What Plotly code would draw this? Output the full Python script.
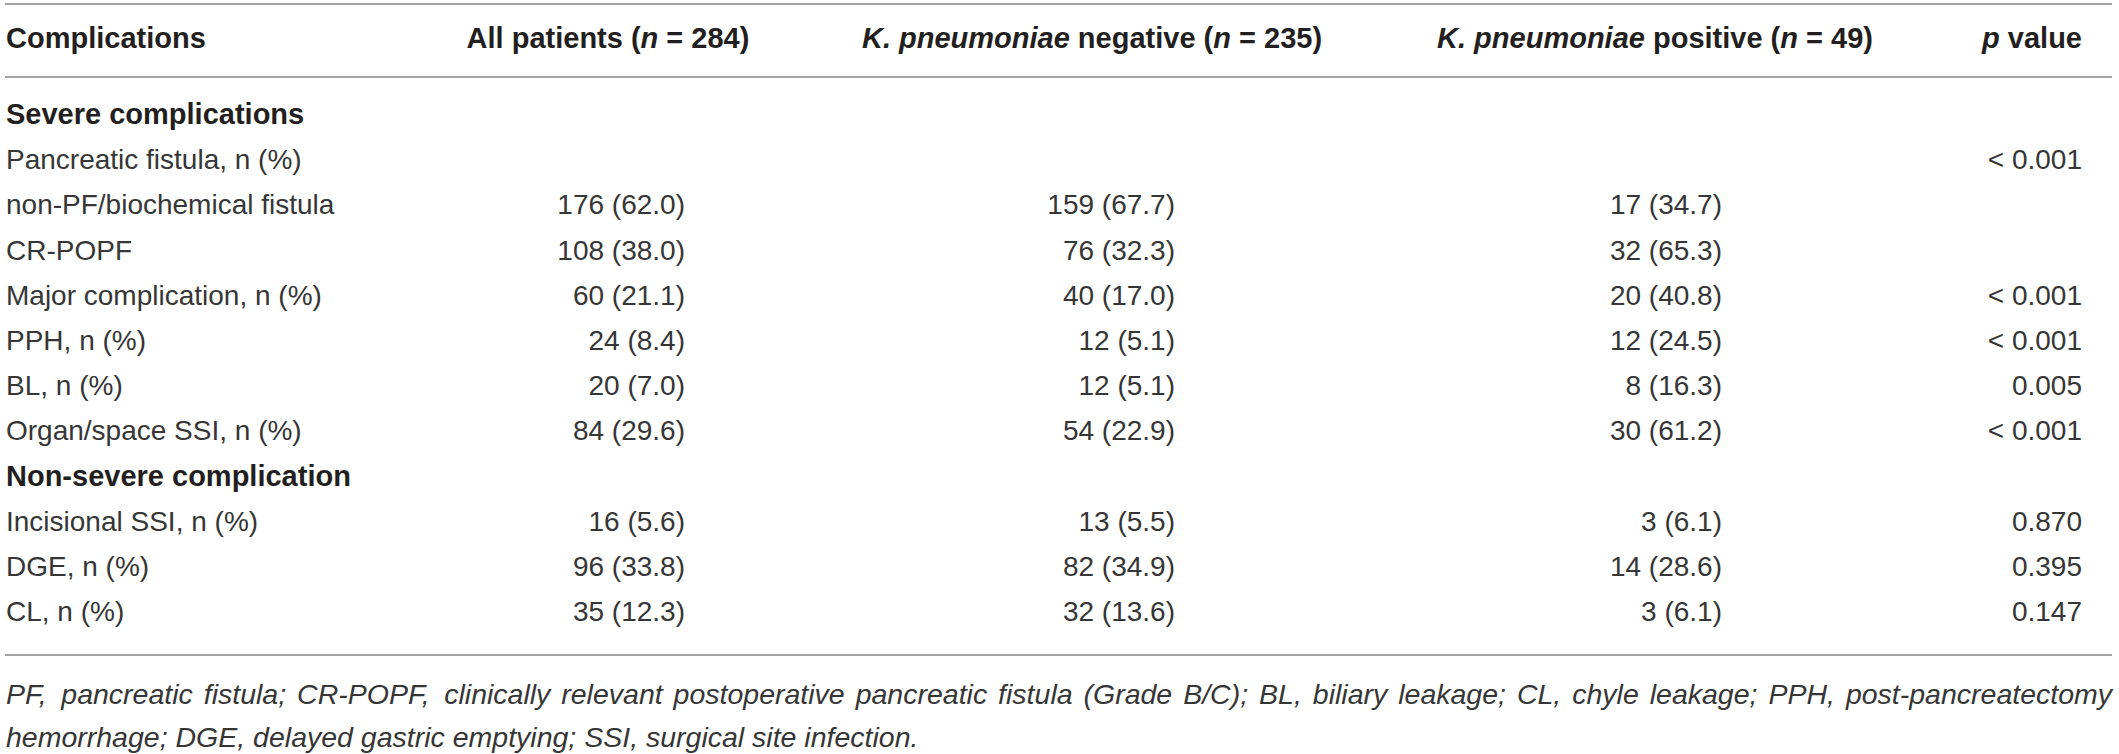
import plotly.graph_objects as go

# ---------------- data ----------------
headers = [
    "Complications",
    "All patients (<i>n</i> = 284)",
    "<i>K. pneumoniae</i> negative (<i>n</i> = 235)",
    "<i>K. pneumoniae</i> positive (<i>n</i> = 49)",
    "<i>p</i> value",
]
row_labels = [
    "Severe complications",
    "Pancreatic fistula, n (%)",
    "non-PF/biochemical fistula",
    "CR-POPF",
    "Major complication, n (%)",
    "PPH, n (%)",
    "BL, n (%)",
    "Organ/space SSI, n (%)",
    "Non-severe complication",
    "Incisional SSI, n (%)",
    "DGE, n (%)",
    "CL, n (%)",
]
section_rows = [0, 8]
all_patients = ["", "", "176 (62.0)", "108 (38.0)", "60 (21.1)", "24 (8.4)", "20 (7.0)",
                "84 (29.6)", "", "16 (5.6)", "96 (33.8)", "35 (12.3)"]
kp_negative = ["", "", "159 (67.7)", "76 (32.3)", "40 (17.0)", "12 (5.1)", "12 (5.1)",
               "54 (22.9)", "", "13 (5.5)", "82 (34.9)", "32 (13.6)"]
kp_positive = ["", "", "17 (34.7)", "32 (65.3)", "20 (40.8)", "12 (24.5)", "8 (16.3)",
               "30 (61.2)", "", "3 (6.1)", "14 (28.6)", "3 (6.1)"]
p_values = ["", "< 0.001", "", "", "< 0.001", "< 0.001", "0.005", "< 0.001", "",
            "0.870", "0.395", "0.147"]
footnote_lines = [
    "PF, pancreatic fistula; CR-POPF, clinically relevant postoperative pancreatic fistula "
    "(Grade B/C); BL, biliary leakage; CL, chyle leakage; PPH, post-pancreatectomy",
    "hemorrhage; DGE, delayed gastric emptying; SSI, surgical site infection.",
]

# ---------------- layout constants ----------------
W, H = 2119, 754
FONT = "Liberation Sans, Arial, Helvetica, sans-serif"
INK = "#231f20"
BODY_INK = "#363636"
RULE = "#a3a3a3"
HEADER_Y = 41
RULES_Y = [4, 77, 655]
ROW_Y0, ROW_STEP = 117, 45.2
FOOT_Y = [697, 740]
LEFT, RIGHT = 6, 2112
VALUE_RIGHT = [685, 1175, 1722, 2082]
HEADER_CENTER = [608, 1092, 1655]
BODY_SIZE = 28
HEAD_SIZE = 29
FOOT_SIZE = 28.5

row_y = [ROW_Y0 + i * ROW_STEP for i in range(len(row_labels))]

fig = go.Figure()


def text_trace(xs, ys, texts, pos, size, weight="normal", style="normal", color=INK):
    fig.add_trace(go.Scatter(
        x=xs, y=ys, text=texts, mode="text", textposition=pos,
        textfont=dict(family=FONT, size=size, color=color, weight=weight, style=style),
        hoverinfo="skip", showlegend=False, cliponaxis=False,
    ))


# header
text_trace([LEFT], [HEADER_Y], [headers[0]], "middle right", HEAD_SIZE, "bold")
text_trace(HEADER_CENTER, [HEADER_Y] * 3, headers[1:4], "middle center", HEAD_SIZE, "bold")
text_trace([VALUE_RIGHT[3]], [HEADER_Y], [headers[4]], "middle left", HEAD_SIZE, "bold")

# row labels
plain_idx = [i for i in range(len(row_labels)) if i not in section_rows]
text_trace([LEFT] * len(plain_idx), [row_y[i] for i in plain_idx],
           [row_labels[i] for i in plain_idx], "middle right", BODY_SIZE, color=BODY_INK)
text_trace([LEFT] * len(section_rows), [row_y[i] for i in section_rows],
           [row_labels[i] for i in section_rows], "middle right", HEAD_SIZE, "bold")

# value columns (right aligned)
for col, xr in zip([all_patients, kp_negative, kp_positive, p_values], VALUE_RIGHT):
    idx = [i for i, v in enumerate(col) if v]
    text_trace([xr] * len(idx), [row_y[i] for i in idx], [col[i] for i in idx],
               "middle left", BODY_SIZE, color=BODY_INK)

# footnote: first line justified using Arial/Liberation Sans advance widths
ADV = {' ': 278, '(': 333, ')': 333, ',': 278, '-': 333, '.': 278, '/': 278, ';': 278,
       '%': 889}
for ch in '0123456789':
    ADV[ch] = 556
ADV.update({'A': 667, 'B': 667, 'C': 722, 'D': 722, 'E': 667, 'F': 611, 'G': 778, 'H': 722,
            'I': 278, 'J': 500, 'K': 667, 'L': 556, 'M': 833, 'N': 722, 'O': 778, 'P': 667,
            'Q': 778, 'R': 722, 'S': 667, 'T': 611, 'U': 722, 'V': 667, 'W': 944, 'X': 667,
            'Y': 667, 'Z': 611, 'a': 556, 'b': 556, 'c': 500, 'd': 556, 'e': 556, 'f': 278,
            'g': 556, 'h': 556, 'i': 222, 'j': 222, 'k': 500, 'l': 222, 'm': 833, 'n': 556,
            'o': 556, 'p': 556, 'q': 556, 'r': 333, 's': 500, 't': 278, 'u': 556, 'v': 500,
            'w': 722, 'x': 500, 'y': 500, 'z': 500})


def width(s):
    return sum(ADV.get(c, 556) for c in s) * FOOT_SIZE / 1000.0


words = footnote_lines[0].split(" ")
wsum = sum(width(w) for w in words)
gap = (RIGHT - LEFT - wsum) / (len(words) - 1)
xs, x = [], LEFT
for w in words:
    xs.append(x)
    x += width(w) + gap
text_trace(xs, [FOOT_Y[0]] * len(words), words, "middle right", FOOT_SIZE,
           style="italic", color=BODY_INK)
text_trace([LEFT], [FOOT_Y[1]], [footnote_lines[1]], "middle right", FOOT_SIZE,
           style="italic", color=BODY_INK)

# horizontal rules
for y in RULES_Y:
    fig.add_shape(type="line", xref="x", yref="y", x0=LEFT - 1, x1=RIGHT, y0=y, y1=y,
                  line=dict(color=RULE, width=2))

fig.update_layout(
    width=W, height=H, margin=dict(l=0, r=0, t=0, b=0),
    paper_bgcolor="white", plot_bgcolor="white",
    xaxis=dict(range=[0, W], visible=False, fixedrange=True),
    yaxis=dict(range=[H, 0], visible=False, fixedrange=True),
)

fig.write_html(
    "out.html",
    config={"displayModeBar": False},
    post_script="document.body.style.margin='0';document.body.style.overflow='hidden';",
)
